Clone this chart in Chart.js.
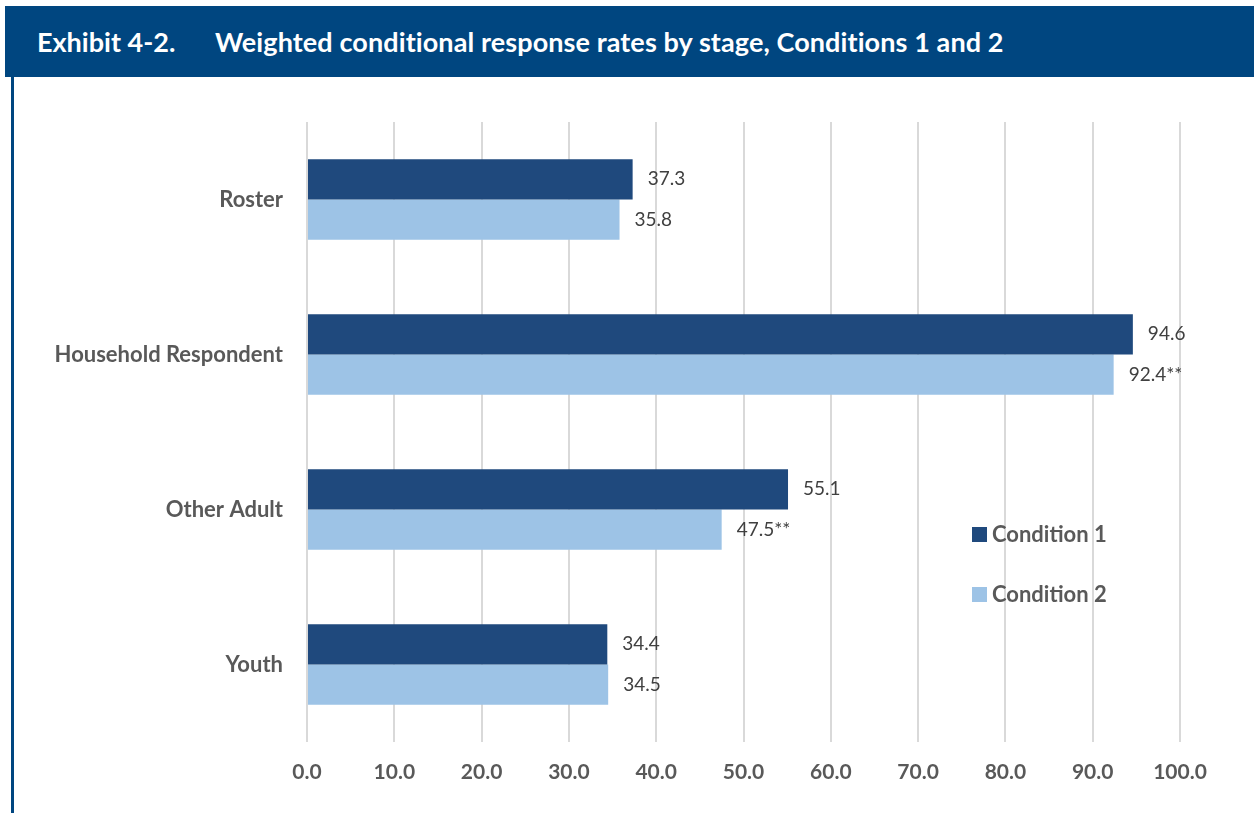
<!DOCTYPE html>
<html>
<head>
<meta charset="utf-8">
<script src="https://cdn.jsdelivr.net/npm/chart.js@4.4.0/dist/chart.umd.min.js"></script>
<style>
  body { margin: 0; background: #fff; font-family: Lato, "Open Sans", sans-serif; }
  #header {
    position: absolute; left: 5px; top: 6px; width: 1249px; height: 71px;
    background: #004680; color: #fff; font-weight: bold; font-size: 27px;
    line-height: 71px; box-sizing: border-box; padding-left: 32px;
  }
  #header .num { display: inline-block; width: 178px; }
  #header .txt { letter-spacing: 0.1px; }
  #leftRule { position: absolute; left: 11px; top: 77px; width: 3px; height: 736px; background: #004680; }
  #wrap { position: absolute; left: 14px; top: 77px; width: 1240px; height: 736px; }
  .leg { position: absolute; font-weight: bold; font-size: 22px; color: #595959; }
  .leg span { display: inline-block; width: 15px; height: 15px; margin-right: 5px; vertical-align: 0px; }
</style>
</head>
<body>
<div id="header"><span class="num">Exhibit 4-2.</span><span class="txt">Weighted conditional response rates by stage, Conditions 1 and 2</span></div>
<div id="leftRule"></div>
<div id="wrap"><canvas id="myChart" width="1240" height="736"></canvas></div>
<div class="leg" style="left:972px; top:520px;"><span style="background:#1f497d"></span>Condition 1</div>
<div class="leg" style="left:972px; top:580px;"><span style="background:#9dc3e6"></span>Condition 2</div>
<script>
// Datos del gráfico
const stages = ['Roster', 'Household Respondent', 'Other Adult', 'Youth'];
const condition1 = [37.3, 94.6, 55.1, 34.4];
const condition2 = [35.8, 92.4, 47.5, 34.5];
const condition1Labels = ['37.3', '94.6', '55.1', '34.4'];
const condition2Labels = ['35.8', '92.4**', '47.5**', '34.5'];

// Etiquetas al final de cada barra
const barLabels = {
    id: 'barLabels',
    afterDatasetsDraw(chart) {
        const ctx = chart.ctx;
        ctx.save();
        ctx.font = '19px Lato, "Open Sans", sans-serif';
        ctx.fillStyle = '#404040';
        ctx.textBaseline = 'middle';
        ctx.textAlign = 'left';
        chart.data.datasets.forEach((ds, i) => {
            chart.getDatasetMeta(i).data.forEach((bar, j) => {
                ctx.fillText(ds.labelsText[j], bar.x + 15, bar.y);
            });
        });
        ctx.restore();
    }
};

const ctx = document.getElementById('myChart').getContext('2d');
const myChart = new Chart(ctx, {
    type: 'bar',
    data: {
        labels: stages,
        datasets: [{
            label: 'Condition 1',
            data: condition1,
            labelsText: condition1Labels,
            backgroundColor: '#1f497d'
        }, {
            label: 'Condition 2',
            data: condition2,
            labelsText: condition2Labels,
            backgroundColor: '#9dc3e6'
        }]
    },
    options: {
        indexAxis: 'y',
        responsive: false,
        animation: false,
        layout: { padding: { top: 45, right: 74, bottom: 11, left: 0 } },
        datasets: { bar: { barPercentage: 1, categoryPercentage: 0.52 } },
        plugins: { legend: { display: false }, tooltip: { enabled: false } },
        scales: {
            x: {
                min: 0,
                max: 100,
                ticks: {
                    stepSize: 10,
                    padding: 18,
                    color: '#595959',
                    font: { family: 'Lato, "Open Sans", sans-serif', size: 21, weight: 'bold' },
                    callback: v => v.toFixed(1)
                },
                grid: { color: '#d9d9d9', lineWidth: 2, drawTicks: false },
                border: { display: false },
                afterFit: s => { s.height = 60; }
            },
            y: {
                ticks: {
                    padding: 16,
                    color: '#595959',
                    font: { family: 'Lato, "Open Sans", sans-serif', size: 22, weight: 'bold' }
                },
                grid: { display: false },
                border: { display: false },
                afterFit: s => { s.width = 293; }
            }
        }
    },
    plugins: [barLabels]
});
</script>
</body>
</html>
